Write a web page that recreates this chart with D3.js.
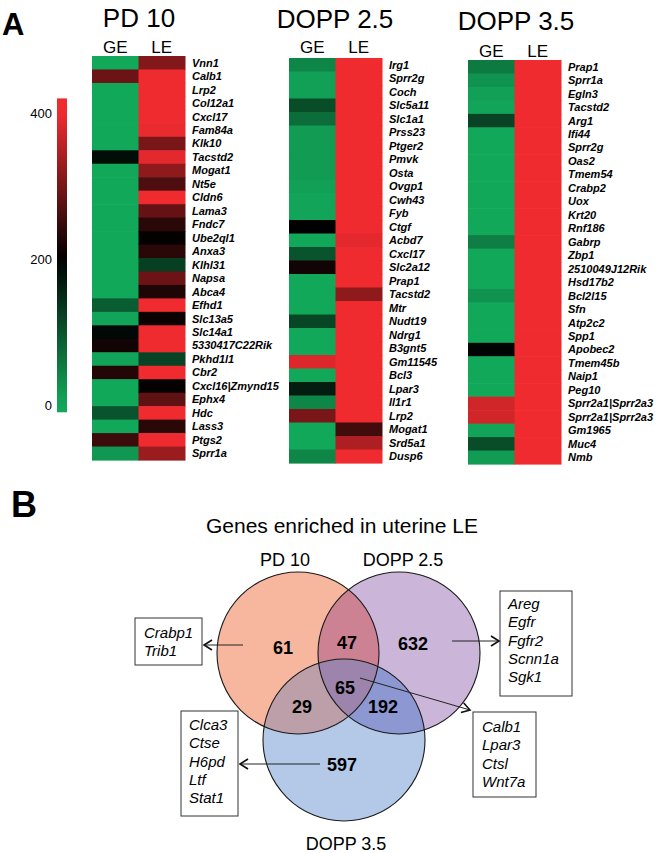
<!DOCTYPE html>
<html>
<head>
<meta charset="utf-8">
<script src="https://cdn.jsdelivr.net/npm/d3@7"></script>
<style>
  body { margin: 0; background: #fff; }
  svg { display: block; font-family: Arial, "Liberation Sans", sans-serif; }
</style>
</head>
<body>
<div id="chart"></div>
<script>
// ---- heatmap data (expression, 0-400) ----
const pd10Genes = ['Vnn1', 'Calb1', 'Lrp2', 'Col12a1', 'Cxcl17', 'Fam84a', 'Klk10', 'Tacstd2', 'Mogat1', 'Nt5e',
    'Cldn6', 'Lama3', 'Fndc7', 'Ube2ql1', 'Anxa3', 'Klhl31', 'Napsa', 'Abca4', 'Efhd1', 'Slc13a5',
    'Slc14a1', '5330417C22Rik', 'Pkhd1l1', 'Cbr2', 'Cxcl16|Zmynd15', 'Ephx4', 'Hdc', 'Lass3', 'Ptgs2', 'Sprr1a'];
const pd10GE = [0, 290, 0, 0, 0, 0, 0, 185, 0, 0, 0, 0, 0, 0, 0, 0, 0, 0, 90, 5,
    190, 215, 5, 230, 0, 0, 100, 0, 250, 20];
const pd10LE = [310, 400, 400, 400, 400, 395, 300, 390, 320, 265, 400, 285, 235, 205, 235, 125, 290, 225, 400, 210,
    400, 400, 120, 400, 205, 280, 400, 235, 400, 330];

const dopp25Genes = ['Irg1', 'Sprr2g', 'Coch', 'Slc5a11', 'Slc1a1', 'Prss23', 'Ptger2', 'Pmvk', 'Osta', 'Ovgp1',
    'Cwh43', 'Fyb', 'Ctgf', 'Acbd7', 'Cxcl17', 'Slc2a12', 'Prap1', 'Tacstd2', 'Mtr', 'Nudt19',
    'Ndrg1', 'B3gnt5', 'Gm11545', 'Bcl3', 'Lpar3', 'Il1r1', 'Lrp2', 'Mogat1', 'Srd5a1', 'Dusp6'];
const dopp25GE = [40, 10, 10, 110, 70, 15, 15, 15, 15, 10, 5, 5, 200, 0, 100, 215, 0, 0, 0, 115,
    0, 0, 385, 0, 165, 40, 300, 0, 0, 40];
const dopp25LE = [400, 400, 400, 400, 400, 400, 400, 400, 400, 400, 400, 400, 400, 390, 400, 400, 400, 320, 400, 400,
    400, 400, 400, 400, 400, 400, 400, 255, 345, 400];

const dopp35Genes = ['Prap1', 'Sprr1a', 'Egln3', 'Tacstd2', 'Arg1', 'Ifi44', 'Sprr2g', 'Oas2', 'Tmem54', 'Crabp2',
    'Uox', 'Krt20', 'Rnf186', 'Gabrp', 'Zbp1', '2510049J12Rik', 'Hsd17b2', 'Bcl2l15', 'Sfn', 'Atp2c2',
    'Spp1', 'Apobec2', 'Tmem45b', 'Naip1', 'Peg10', 'Sprr2a1|Sprr2a3', 'Sprr2a1|Sprr2a3', 'Gm1965', 'Muc4', 'Nmb'];
const dopp35GE = [55, 25, 10, 5, 120, 0, 0, 0, 0, 0, 0, 0, 0, 50, 0, 0, 0, 25, 0, 0,
    0, 195, 0, 0, 0, 375, 375, 5, 110, 15];
const dopp35LE = [400, 400, 400, 400, 400, 400, 400, 400, 400, 400, 400, 400, 400, 400, 400, 400, 400, 400, 400, 400,
    400, 400, 400, 400, 400, 400, 400, 400, 400, 400];

const columns = ['GE', 'LE'];
const colorTicks = [0, 200, 400];

// ---- venn data ----
const vennTitle = 'Genes enriched in uterine LE';
const vennSets = ['PD 10', 'DOPP 2.5', 'DOPP 3.5'];
// regions: PD10 only, DOPP2.5 only, DOPP3.5 only, PD10&2.5, PD10&3.5, 2.5&3.5, all
const vennRegions = ['A', 'B', 'C', 'AB', 'AC', 'BC', 'ABC'];
const vennCounts = [61, 632, 597, 47, 29, 192, 65];
const boxGenesA = ['Crabp1', 'Trib1'];
const boxGenesB = ['Areg', 'Egfr', 'Fgfr2', 'Scnn1a', 'Sgk1'];
const boxGenesC = ['Clca3', 'Ctse', 'H6pd', 'Ltf', 'Stat1'];
const boxGenesABC = ['Calb1', 'Lpar3', 'Ctsl', 'Wnt7a'];

const W = 656, H = 853;
const svg = d3.select('#chart').append('svg')
    .attr('width', W)
    .attr('height', H);
const defs = svg.append('defs');

const green = '#12a85a', red = '#ef2b2f';
const color = d3.scaleLinear().domain([0, 200, 400]).range([green, '#000000', red]).clamp(true);

// panel letters
svg.append('text').attr('x', 2).attr('y', 35)
    .attr('font-size', 31).attr('font-weight', 'bold').text('A');
svg.append('text').attr('x', 11).attr('y', 517)
    .attr('font-size', 36).attr('font-weight', 'bold').text('B');

// ---- colour bar ----
const cbY = d3.scaleLinear().domain([0, 400]).range([405, 113]);
const cbDomain = [-10, 420];
const grad = defs.append('linearGradient')
    .attr('id', 'cbGrad')
    .attr('x1', 0).attr('y1', 1).attr('x2', 0).attr('y2', 0);
d3.range(0, 1.0001, 0.05).forEach(t => {
    const v = cbDomain[0] + t * (cbDomain[1] - cbDomain[0]);
    grad.append('stop').attr('offset', t).attr('stop-color', color(v));
});
svg.append('rect')
    .attr('x', 57).attr('width', 10)
    .attr('y', cbY(cbDomain[1]))
    .attr('height', cbY(cbDomain[0]) - cbY(cbDomain[1]))
    .attr('fill', 'url(#cbGrad)');
svg.append('g').selectAll('text')
    .data(colorTicks)
    .join('text')
    .attr('x', 52)
    .attr('y', d => cbY(d))
    .attr('dy', '0.35em')
    .attr('text-anchor', 'end')
    .attr('font-size', 13)
    .text(d => d);

// ---- heatmaps ----
const drawHeatmap = (cfg) => {
    const g = svg.append('g');
    const x = d3.scaleBand().domain(columns).range([cfg.left, cfg.left + 93]);
    const y = d3.scaleBand().domain(d3.range(cfg.genes.length)).range([cfg.top, cfg.bottom]);

    const rows = cfg.genes.map((gene, i) => ({gene, i, GE: cfg.ge[i], LE: cfg.le[i]}));

    columns.forEach(col => {
        g.append('g').selectAll('rect')
            .data(rows)
            .join('rect')
            .attr('x', x(col))
            .attr('y', d => y(d.i))
            .attr('width', x.bandwidth() + 0.5)
            .attr('height', y.bandwidth() + 0.6)
            .attr('fill', d => color(d[col]));
    });

    // column headers
    g.append('g').selectAll('text')
        .data(columns)
        .join('text')
        .attr('x', d => x(d) + x.bandwidth() / 2)
        .attr('y', cfg.headY)
        .attr('text-anchor', 'middle')
        .attr('font-size', 17)
        .text(d => d);

    // title
    g.append('text')
        .attr('x', cfg.titleX)
        .attr('y', cfg.titleY)
        .attr('text-anchor', 'middle')
        .attr('font-size', 26)
        .text(cfg.title);

    // gene labels
    g.append('g').selectAll('text')
        .data(rows)
        .join('text')
        .attr('x', cfg.left + 93 + 7)
        .attr('y', d => y(d.i) + y.bandwidth() / 2)
        .attr('dy', '0.36em')
        .attr('font-size', 11)
        .attr('font-weight', 'bold')
        .attr('font-style', 'italic')
        .text(d => d.gene);
};

drawHeatmap({genes: pd10Genes, ge: pd10GE, le: pd10LE, title: 'PD 10',
    left: 92, top: 56, bottom: 460, titleX: 139, titleY: 27, headY: 53});
drawHeatmap({genes: dopp25Genes, ge: dopp25GE, le: dopp25LE, title: 'DOPP 2.5',
    left: 289, top: 58, bottom: 463, titleX: 335, titleY: 28, headY: 53});
drawHeatmap({genes: dopp35Genes, ge: dopp35GE, le: dopp35LE, title: 'DOPP 3.5',
    left: 468, top: 60, bottom: 464, titleX: 516, titleY: 30, headY: 57});

// ---- venn diagram ----
const r = 81;
const circles = [
    {id: 'A', cx: 298, cy: 653, fill: '#f6b79e'},
    {id: 'B', cx: 399, cy: 653, fill: '#cbb6da'},
    {id: 'C', cx: 344, cy: 740, fill: '#b4c9e8'}
];
const overlapFill = {AB: '#cd8294', AC: '#bc9fa8', BC: '#8d98d2', ABC: '#9c84ac'};
// label anchor for each region
const regionPos = {A: [283, 648], B: [413, 644], C: [342, 765], AB: [347, 643],
    AC: [302, 707], BC: [383, 707], ABC: [345, 688]};
const byId = {};
circles.forEach(c => byId[c.id] = c);

circles.forEach(c => {
    defs.append('clipPath').attr('id', 'clip' + c.id)
        .append('circle').attr('cx', c.cx).attr('cy', c.cy).attr('r', r);
});

const venn = svg.append('g');
venn.selectAll('circle.base')
    .data(circles)
    .join('circle')
    .attr('class', 'base')
    .attr('cx', d => d.cx).attr('cy', d => d.cy).attr('r', r)
    .attr('fill', d => d.fill);

const overlap = (shape, clip, fill) => {
    const c = byId[shape];
    return venn.append('circle')
        .attr('cx', c.cx).attr('cy', c.cy).attr('r', r)
        .attr('clip-path', `url(#clip${clip})`)
        .attr('fill', fill);
};
overlap('B', 'A', overlapFill.AB);
overlap('C', 'A', overlapFill.AC);
overlap('C', 'B', overlapFill.BC);
const triple = venn.append('g').attr('clip-path', 'url(#clipB)');
triple.append('circle')
    .attr('cx', byId.C.cx).attr('cy', byId.C.cy).attr('r', r)
    .attr('clip-path', 'url(#clipA)')
    .attr('fill', overlapFill.ABC);

venn.selectAll('circle.edge')
    .data(circles)
    .join('circle')
    .attr('class', 'edge')
    .attr('cx', d => d.cx).attr('cy', d => d.cy).attr('r', r)
    .attr('fill', 'none')
    .attr('stroke', '#1a1a1a')
    .attr('stroke-width', 1.1);

venn.selectAll('text.count')
    .data(vennRegions.map((id, i) => ({id, n: vennCounts[i]})))
    .join('text')
    .attr('class', 'count')
    .attr('x', d => regionPos[d.id][0])
    .attr('y', d => regionPos[d.id][1])
    .attr('dy', '0.36em')
    .attr('text-anchor', 'middle')
    .attr('font-size', 18)
    .attr('font-weight', 'bold')
    .text(d => d.n);

// set names + title
const setLabelPos = [[285, 566], [403, 566], [346, 850]];
svg.append('g').selectAll('text')
    .data(vennSets)
    .join('text')
    .attr('x', (d, i) => setLabelPos[i][0])
    .attr('y', (d, i) => setLabelPos[i][1])
    .attr('text-anchor', 'middle')
    .attr('font-size', 18)
    .text(d => d);
svg.append('text')
    .attr('x', 342).attr('y', 533)
    .attr('text-anchor', 'middle')
    .attr('font-size', 21)
    .text(vennTitle);

// arrow marker
defs.append('marker')
    .attr('id', 'arrow')
    .attr('viewBox', '-1 -6 11 12')
    .attr('refX', 8).attr('refY', 0)
    .attr('markerWidth', 11).attr('markerHeight', 12)
    .attr('markerUnits', 'userSpaceOnUse')
    .attr('orient', 'auto')
    .append('path')
    .attr('d', 'M0,-5L8,0L0,5')
    .attr('fill', 'none')
    .attr('stroke', '#111')
    .attr('stroke-width', 1.6);

// gene boxes with arrows
const boxes = [
    {genes: boxGenesA, x: 135, y: 618, w: 67, h: 47, tx: 144, ty: 638, from: [243, 645], to: [204, 645]},
    {genes: boxGenesB, x: 500, y: 591, w: 72, h: 105, tx: 508, ty: 609, from: [452, 641], to: [499, 641]},
    {genes: boxGenesABC, x: 473, y: 712, w: 63, h: 85, tx: 482, ty: 732, from: [360, 678], to: [470, 710]},
    {genes: boxGenesC, x: 181, y: 711, w: 57, h: 105, tx: 189, ty: 730, from: [320, 764], to: [240, 764]}
];
boxes.forEach(b => {
    const g = svg.append('g');
    g.append('rect')
        .attr('x', b.x).attr('y', b.y).attr('width', b.w).attr('height', b.h)
        .attr('fill', '#fff')
        .attr('stroke', '#333')
        .attr('stroke-width', 1);
    g.selectAll('text')
        .data(b.genes)
        .join('text')
        .attr('x', b.tx)
        .attr('y', (d, i) => b.ty + i * 18.3)
        .attr('font-size', 15)
        .attr('font-style', 'italic')
        .text(d => d);
    svg.append('line')
        .attr('x1', b.from[0]).attr('y1', b.from[1])
        .attr('x2', b.to[0]).attr('y2', b.to[1])
        .attr('stroke', '#222')
        .attr('stroke-width', 1)
        .attr('marker-end', 'url(#arrow)');
});
</script>
</body>
</html>
